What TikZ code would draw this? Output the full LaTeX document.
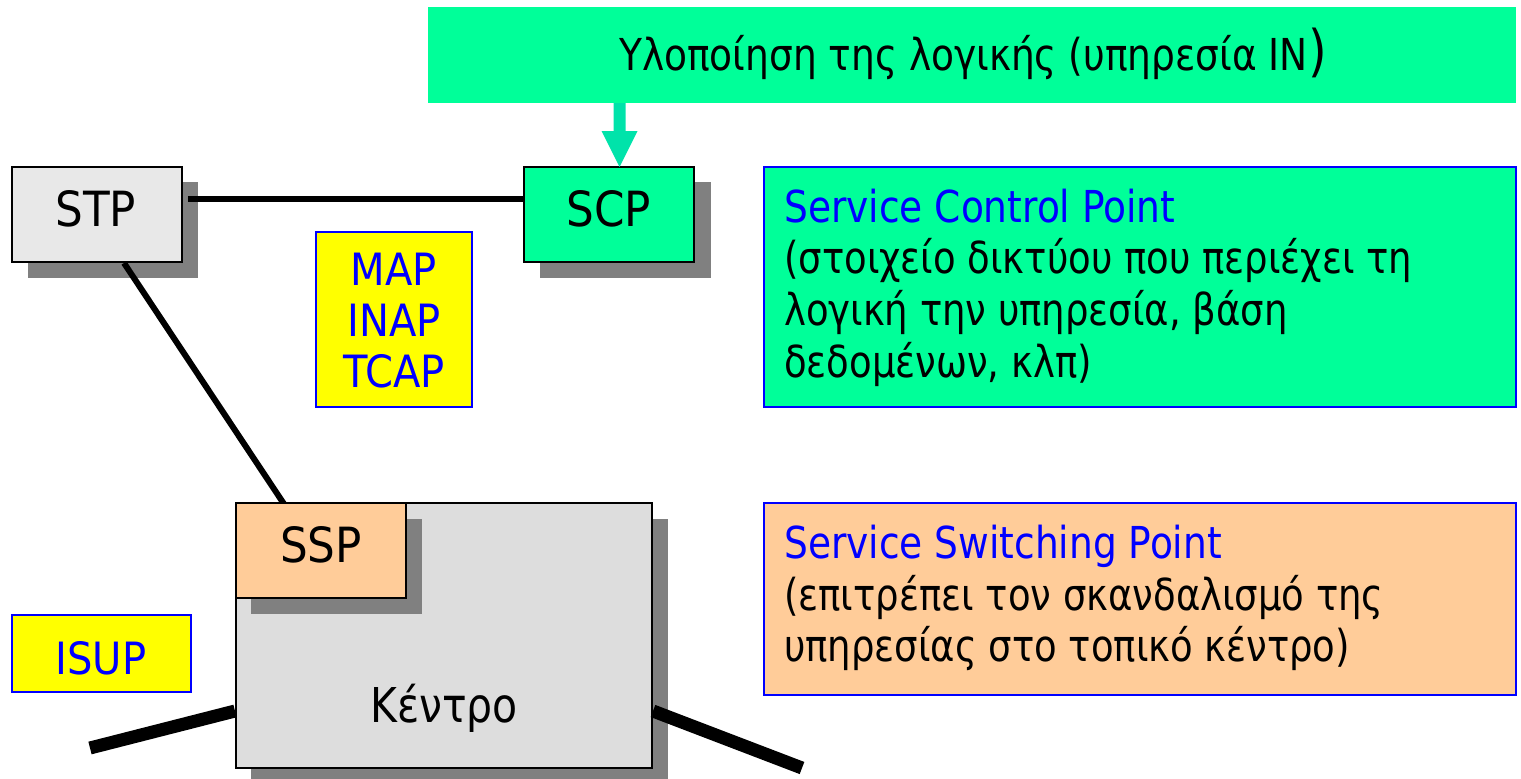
\documentclass[tikz,border=0pt]{standalone}
\usepackage{fontspec}
\setmainfont{DejaVu Sans Condensed}
\newfontfamily\narrowa[FakeStretch=0.948]{DejaVu Sans Condensed}
\newfontfamily\narrowb[FakeStretch=0.935]{DejaVu Sans Condensed}
\definecolor{mint}{HTML}{00FF99}
\definecolor{arrowmint}{HTML}{00E3AA}
\definecolor{peach}{HTML}{FFCC99}
\definecolor{shadowgray}{HTML}{808080}
\definecolor{boxblue}{HTML}{0000FF}
\definecolor{kgray}{HTML}{DDDDDD}
\definecolor{stpgray}{HTML}{E8E8E8}
\definecolor{lemon}{HTML}{FFFF00}
\newcommand{\panelsize}{\fontsize{44}{52}\selectfont}
\tikzset{
  x=1pt,y=-1pt,
  netbox/.style={draw=black,line width=2.4pt},
  labelbox/.style={draw=boxblue,line width=2pt},
  boxtxt/.style={font=\fontsize{48.5}{52}\selectfont,inner sep=0pt,anchor=base},
  bluetxt/.style={font=\fontsize{44.5}{52}\selectfont,text=boxblue,inner sep=0pt,anchor=base},
  leftblue/.style={font=\narrowa\panelsize,text=boxblue,inner sep=0pt,anchor=base west},
  leftblack/.style={font=\narrowb\panelsize,inner sep=0pt,anchor=base west},
  link/.style={draw=black,line width=6pt},
  trunk/.style={draw=black,line width=13pt}
}
\begin{document}
\begin{tikzpicture}
\useasboundingbox (0,0) rectangle (1521,779);
\coordinate (tl) at (90,748);
\coordinate (tr) at (802,768);
% top bar
\fill[mint] (428,7) rectangle (1516,103);
\node[font=\narrowa\panelsize,inner sep=0pt,anchor=base] (bar) at (973,70) {Υλοποίηση της λογικής (υπηρεσία ΙΝ{\fontsize{56}{60}\selectfont)}};
% shadows
\fill[shadowgray] (28,182) rectangle (198,278);
\fill[shadowgray] (540,182) rectangle (711,278);
\fill[shadowgray] (251,519) rectangle (668,779);
% links
\coordinate (stpE) at (188,199);
\coordinate (stpS) at (124,263);
\coordinate (sspN) at (284,504);
\coordinate (scpW) at (524,199);
\draw[link] (stpE) -- (scpW);
\draw[link] (stpS) -- (sspN);
% boxes
\draw[netbox,fill=stpgray] (12,167) rectangle (182,262);
\node[boxtxt] (stp) at (96,226) {STP};
\draw[netbox,fill=mint] (524,167) rectangle (694,262);
\node[boxtxt] (scp) at (609,226) {SCP};
\draw[netbox,fill=kgray] (236,503) rectangle (652,768);
\node[font=\narrowa\fontsize{48}{52}\selectfont,inner sep=0pt,anchor=base] (kentro) at (444,722) {Κέντρο};
\fill[shadowgray] (251,519) rectangle (422,614);
\draw[netbox,fill=peach] (236,503) rectangle (406,598);
\node[boxtxt] (ssp) at (321,562) {SSP};
% trunks
\coordinate (kW) at (235,711);
\coordinate (kE) at (653,711);
\draw[trunk] (tl) -- (kW);
\draw[trunk] (kE) -- (tr);
% arrow
\fill[arrowmint] (613.5,103) -- (625.5,103) -- (625.5,131) -- (637.5,131) -- (619.5,167) -- (601.5,131) -- (613.5,131) -- cycle;
% yellow label boxes
\draw[labelbox,fill=lemon] (316,232) rectangle (472,407);
\node[bluetxt] (map) at (394,285) {MAP};
\node[bluetxt] (inap) at (394,336) {INAP};
\node[bluetxt] (tcap) at (394,387) {TCAP};
\draw[labelbox,fill=lemon] (12,615) rectangle (191,692);
\node[bluetxt] (isup) at (101,674) {ISUP};
% right panels
\draw[labelbox,fill=mint] (764,167) rectangle (1516,407);
\node[leftblue] (scp1) at (784,222) {Service Control Point};
\node[leftblack] (scp2) at (784,273) {(στοιχείο δικτύου που περιέχει τη};
\node[leftblack] (scp3) at (784,325) {λογική την υπηρεσία, βάση};
\node[leftblack] (scp4) at (784,377) {δεδομένων, κλπ)};
\draw[labelbox,fill=peach] (764,503) rectangle (1516,695);
\node[leftblue] (ssp1) at (784,558) {Service Switching Point};
\node[leftblack] (ssp2) at (784,610) {(επιτρέπει τον σκανδαλισμό της};
\node[leftblack] (ssp3) at (784,661) {υπηρεσίας στο τοπικό κέντρο)};
\end{tikzpicture}
\end{document}
